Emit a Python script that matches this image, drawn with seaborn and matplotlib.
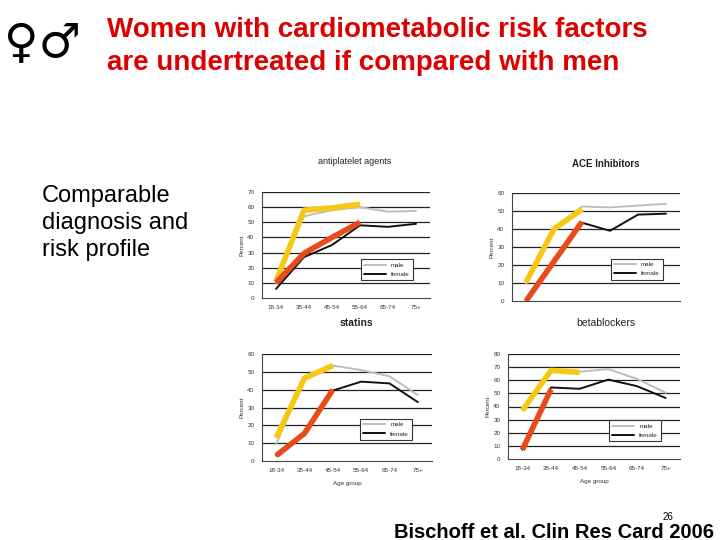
import matplotlib
matplotlib.use("Agg")
import matplotlib.pyplot as plt
import seaborn as sns
import pandas as pd
import numpy as np

age_groups = ["18-34", "35-44", "45-54", "55-64", "65-74", "75+"]

# antiplatelet agents
anti_male = [10, 54, 58, 60, 57, 57.5]
anti_female = [6, 27, 35, 48, 47, 49]
anti_hl_male = [11, 58, 59.5, 62]
anti_hl_female = [10, 29.5, 40, 50]

# ACE inhibitors
ace_male = [9.5, 40, 52.5, 52, 53, 54]
ace_female = [0, 22, 43.5, 39, 48, 48.5]
ace_hl_male = [10.5, 40, 51]
ace_hl_female = [0, 22, 44]

# statins
stat_male = [9.5, 46, 53.5, 51, 47.5, 37]
stat_female = [3, 14.5, 39.5, 44.5, 43.5, 33]
stat_hl_male = [13, 46.5, 53.5]
stat_hl_female = [3, 15.5, 40]

# betablockers
beta_male = [37, 68, 66.5, 68.5, 61, 50.5]
beta_female = [7, 54.5, 53.5, 60.5, 55.5, 46.5]
beta_hl_male = [37, 67.5, 66]
beta_hl_female = [7, 53]

YELLOW = "#f6c814"
RED = "#e84a1a"


def make_df(male, female):
    rows = []
    for i, g in enumerate(age_groups):
        rows.append({"pos": i, "age": g, "sex": "male", "percent": male[i]})
        rows.append({"pos": i, "age": g, "sex": "female", "percent": female[i]})
    return pd.DataFrame(rows)


def draw_panel(fig, rect, male, female, hl_male, hl_female, ymax, ystep,
               legend_xy, male_label="male", female_label="female",
               xlabels=True, xlabel=None):
    ax = fig.add_axes(rect)
    df = make_df(male, female)
    sns.lineplot(data=df, x="pos", y="percent", hue="sex",
                 palette={"male": "#bdbdbd", "female": "#111111"},
                 hue_order=["male", "female"], lw=1.4, ax=ax, zorder=3)
    sns.lineplot(x=np.arange(len(hl_male)), y=hl_male, color=YELLOW,
                 lw=4, ax=ax, zorder=4, solid_capstyle="butt")
    sns.lineplot(x=np.arange(len(hl_female)), y=hl_female, color=RED,
                 lw=4, ax=ax, zorder=5, solid_capstyle="butt")
    ax.set_xlim(-0.5, 5.5)
    ax.set_ylim(0, ymax)
    ax.set_yticks(np.arange(0, ymax + 1, ystep))
    for v in np.arange(ystep, ymax + 1, ystep):
        ax.axhline(v, color="#222222", lw=0.9, zorder=1)
    ax.set_xticks(range(6))
    if xlabels:
        ax.set_xticklabels(age_groups)
    else:
        ax.set_xticklabels([])
    ax.set_xticks(np.arange(-0.5, 6, 1), minor=True)
    ax.tick_params(axis="x", which="major", length=0, labelsize=4.5,
                   colors="#333333", pad=5)
    ax.tick_params(axis="x", which="minor", length=3, color="#555555")
    ax.tick_params(axis="y", labelsize=4.5, colors="#333333", length=2)
    ax.set_ylabel("Percent", fontsize=4.5, color="#333333", labelpad=2)
    if xlabel:
        ax.set_xlabel(xlabel, fontsize=4.5, color="#333333", labelpad=6)
    else:
        ax.set_xlabel("")
    for s in ["top", "right"]:
        ax.spines[s].set_visible(False)
    ax.spines["left"].set_color("#444444")
    ax.spines["bottom"].set_color("#444444")
    ax.spines["left"].set_linewidth(0.8)
    ax.spines["bottom"].set_linewidth(0.8)
    h, l = ax.get_legend_handles_labels()
    leg = ax.legend(h[:2], [male_label, female_label], loc="lower left",
                    bbox_to_anchor=legend_xy, fontsize=4.5, frameon=True,
                    fancybox=False, edgecolor="#333333", framealpha=1,
                    handlelength=3.5, borderpad=0.5, labelspacing=0.6)
    leg.get_frame().set_linewidth(0.8)
    ax.set_facecolor("white")
    return ax


def px_rect(x0, y0, x1, y1):
    return [x0 / 720, 1 - y1 / 540, (x1 - x0) / 720, (y1 - y0) / 540]


def main():
    sns.set_theme(style="white")
    plt.rcParams["font.family"] = ["Liberation Sans", "DejaVu Sans"]
    fig = plt.figure(figsize=(7.2, 5.4), dpi=100)
    fig.patch.set_facecolor("white")

    draw_panel(fig, px_rect(262, 192, 430, 298), anti_male, anti_female,
               anti_hl_male, anti_hl_female, 70, 10, (0.57, 0.14))
    draw_panel(fig, px_rect(512, 193, 680, 301), ace_male, ace_female,
               ace_hl_male, ace_hl_female, 60, 10, (0.57, 0.17),
               xlabels=False)
    draw_panel(fig, px_rect(262, 354, 432, 461), stat_male, stat_female,
               stat_hl_male, stat_hl_female, 60, 10, (0.56, 0.17),
               xlabel="Age group")
    draw_panel(fig, px_rect(508, 354, 680, 459), beta_male, beta_female,
               beta_hl_male, beta_hl_female, 80, 10, (0.57, 0.14),
               male_label="male", xlabel="Age group")

    # panel titles
    fig.text(355 / 720, 1 - 162 / 540, "antiplatelet agents", fontsize=6.5,
             ha="center", va="center", color="#222222")
    fig.text(606 / 720, 1 - 164 / 540, "ACE Inhibitors", fontsize=7,
             ha="center", va="center", color="#222222", fontweight="bold")
    fig.text(356 / 720, 1 - 323 / 540, "statins", fontsize=7.5,
             ha="center", va="center", color="#222222", fontweight="bold")
    fig.text(606 / 720, 1 - 323 / 540, "betablockers", fontsize=7.5,
             ha="center", va="center", color="#222222")

    # slide texts
    fig.text(107 / 720, 1 - 30 / 540, "Women with cardiometabolic risk factors",
             fontsize=20, fontweight="bold", color="#dd0000",
             ha="left", va="center")
    fig.text(107 / 720, 1 - 63 / 540, "are undertreated if compared with men",
             fontsize=20, fontweight="bold", color="#dd0000",
             ha="left", va="center")
    fig.text(42 / 720, 1 - 223 / 540, "Comparable\ndiagnosis and\nrisk profile",
             fontsize=17, color="black", ha="left", va="center",
             linespacing=1.3)
    fig.text(714 / 720, 1 - 532 / 540, "Bischoff et al. Clin Res Card 2006",
             fontsize=14.5, fontweight="bold", color="black",
             ha="right", va="center")
    fig.text(668 / 720, 1 - 517 / 540, "26", fontsize=7, color="black",
             ha="center", va="center")

    # logo
    fig.text(4 / 720, 1 - 45 / 540, "\u2640\u2642", fontsize=34,
             color="black", ha="left", va="center",
             family=["DejaVu Sans"])

    fig.savefig("out.png", dpi=100, facecolor="white")


if __name__ == "__main__":
    main()
